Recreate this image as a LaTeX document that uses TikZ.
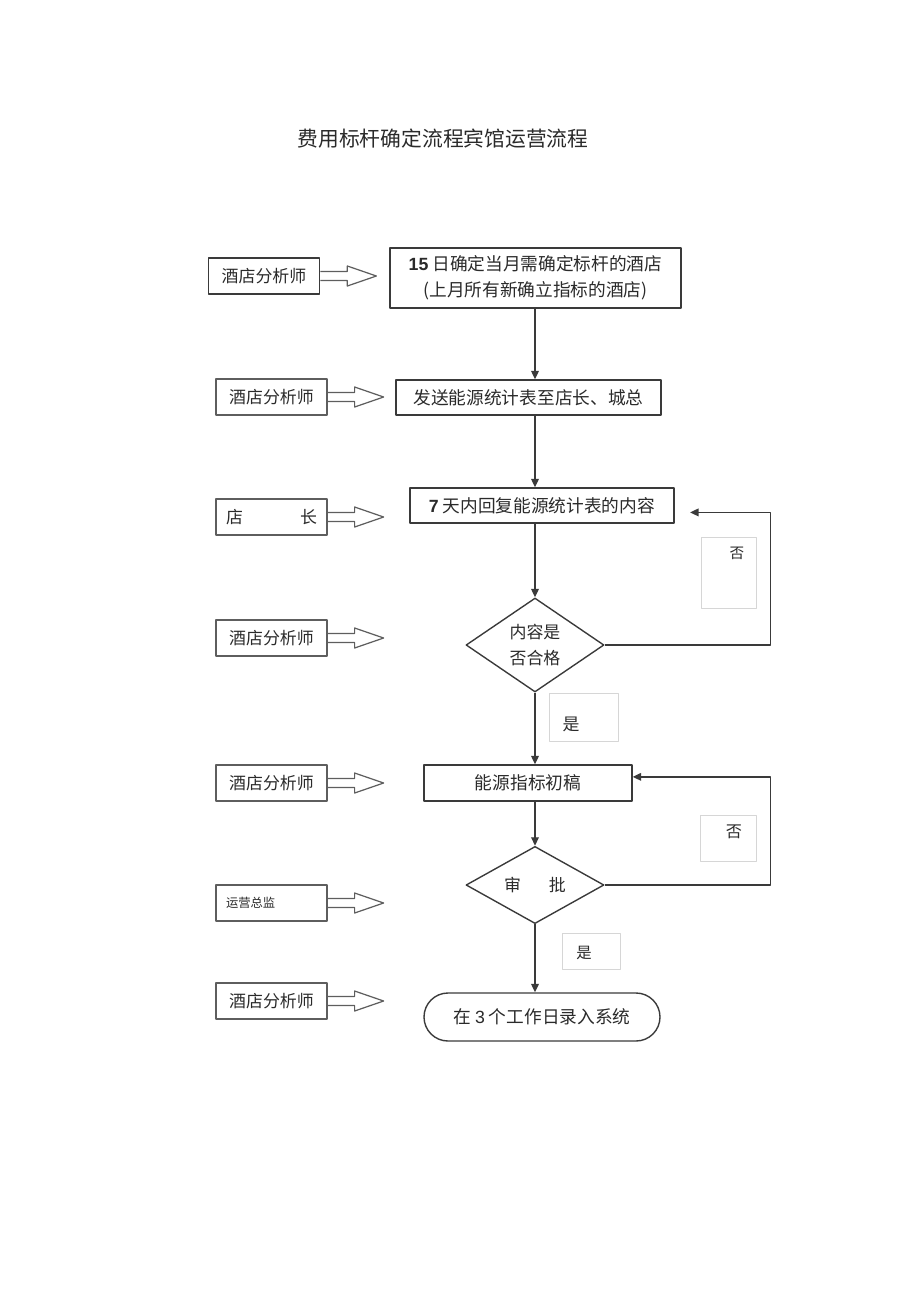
\documentclass[tikz,border=0pt]{standalone}
\usepackage{fontspec}
\setmainfont{Noto Sans CJK SC}
\newfontfamily\latinfont{Liberation Sans}
\usetikzlibrary{arrows.meta,shapes.geometric}
\definecolor{linec}{HTML}{3A3A3A}
\definecolor{rolec}{HTML}{5E5E5E}
\definecolor{textc}{HTML}{2A2A2A}
\definecolor{labelc}{HTML}{D6D6D6}
\newcommand{\pxu}{0.65pt}
% hollow arrow from a role box to its step
\newcommand{\rolearrow}[1]{\draw[rolec, line width=0.8pt] (#1.east) ++(0,-4.5) -- ++(27,0) -- ++(0,-5.5) -- ++(29,10) -- ++(-29,10) -- ++(0,-5.5) -- ++(-27,0);}
\tikzset{
  procbox/.style={draw=linec, line width=0.9pt, text=textc, inner sep=0pt, align=center, font=\fontsize{11.5}{17}\selectfont},
  rolebox/.style={draw=rolec, line width=0.8pt, text=textc, inner sep=0pt, minimum width=111*\pxu, minimum height=36*\pxu, text width=91*\pxu, align=center, font=\fontsize{11}{13}\selectfont},
  decide/.style={diamond, draw=linec, line width=0.9pt, text=textc, inner sep=0pt, minimum width=138*\pxu, align=center, font=\fontsize{11}{17}\selectfont},
  answer/.style={draw=labelc, line width=0.6pt, inner sep=0pt},
  flow/.style={->, draw=linec, line width=0.9pt},
}
\begin{document}
\begin{tikzpicture}[x=0.65pt, y=-0.65pt, >={Triangle[length=5.5pt,width=5pt]}, line join=round]
\useasboundingbox (0,0) rectangle (920,1303);
\node[text=textc, font=\fontsize{13.5}{16}\selectfont] (title) at (443,139) {费用标杆确定流程宾馆运营流程};

% steps
\node[procbox, minimum width=291*\pxu, minimum height=60*\pxu] (b1) at (535.5,278) {{\latinfont\bfseries 15} 日确定当月需确定标杆的酒店\\(上月所有新确立指标的酒店)};
\node[procbox, minimum width=265*\pxu, minimum height=35*\pxu] (b2) at (528.5,397.5) {发送能源统计表至店长、城总};
\node[procbox, minimum width=264*\pxu, minimum height=35*\pxu] (b3) at (542,505.5) {{\latinfont\bfseries 7} 天内回复能源统计表的内容};
\node[decide, minimum height=94*\pxu] (d1) at (535,645) {内容是\\否合格};
\node[procbox, minimum width=208*\pxu, minimum height=36*\pxu] (b4) at (528,783) {能源指标初稿};
\node[decide, minimum height=70*\pxu] (d2) at (535,885) {审\hspace{18pt}批};
\node[procbox, rounded corners=24*\pxu, minimum width=236*\pxu, minimum height=48*\pxu] (t1) at (542,1017) {在 {\latinfont 3} 个工作日录入系统};

% roles
\node[rolebox, draw=linec, line width=1.1pt] (r1) at (264,276) {酒店分析师};
\node[rolebox] (r2) at (271.5,397) {酒店分析师};
\node[rolebox] (r3) at (271.5,517) {店\hfill 长};
\node[rolebox] (r4) at (271.5,638) {酒店分析师};
\node[rolebox] (r5) at (271.5,783) {酒店分析师};
\node[rolebox, align=left, font=\fontsize{8}{10}\selectfont] (r6) at (271.5,903) {运营总监};
\node[rolebox] (r7) at (271.5,1001) {酒店分析师};
\foreach \r in {r1,r2,r3,r4,r5,r6,r7} {\rolearrow{\r}}

% yes / no labels
\node[answer, minimum width=55*\pxu, minimum height=71*\pxu] (n1) at (728.5,572.5) {};
\node[text=textc, font=\fontsize{9.5}{11}\selectfont] (n1t) at (737,553) {否};
\node[answer, minimum width=69*\pxu, minimum height=48*\pxu] (y1) at (583.5,717) {};
\node[text=textc, font=\fontsize{11}{13}\selectfont] (y1t) at (571,724) {是};
\node[answer, minimum width=56*\pxu, minimum height=46*\pxu] (n2) at (728,838) {};
\node[text=textc, font=\fontsize{10.5}{12}\selectfont] (n2t) at (734,832) {否};
\node[answer, minimum width=58*\pxu, minimum height=36*\pxu] (y2) at (591,951) {};
\node[text=textc, font=\fontsize{10}{12}\selectfont] (y2t) at (584,953) {是};

% flow
\draw[flow] (d1 |- b1.south) -- (d1 |- b2.north);
\draw[flow] (d1 |- b2.south) -- (d1 |- b3.north);
\draw[flow] (d1 |- b3.south) -- (d1.north);
\draw[flow] (d1.south) -- (d1 |- b4.north);
\draw[flow] (d1 |- b4.south) -- (d2.north);
\draw[flow] (d2.south) -- (d2 |- t1.north);
\draw[flow] (d1.east) -- ++(166,0) |- ([xshift=10pt,yshift=-4.5pt]b3.east);
\draw[flow] (d2.east) -- ++(166,0) |- ([yshift=4pt]b4.east);
\end{tikzpicture}
\end{document}
